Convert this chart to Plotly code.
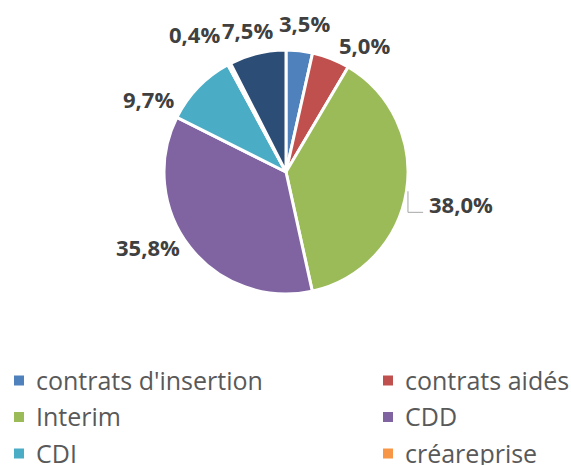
import math
import plotly.graph_objects as go

labels = ["contrats d'insertion", "contrats aidés", "Interim", "CDD", "CDI", "créareprise", "autres"]
values = [3.5, 5.0, 38.0, 35.8, 9.7, 0.4, 7.5]
colors = ["#4F81BD", "#C0504D", "#9BBB59", "#8064A2", "#4BACC6", "#F79646", "#2C4D75"]

# label placement style (distance from centre in px, angular nudge in degrees)
label_dist = [150, 149.5, 178, 157, 156, 165, 147]
label_nudge = [0.6, 9.9, 1.2, 9.4, -16.0, -5.8, -1.7]
leader = [False, False, True, False, False, False, False]

W, H = 571, 465
cx, cy, r = 286, 172, 122


def px(x):
    return x / W


def py(y):
    return 1 - y / H


fig = go.Figure()
fig.add_trace(go.Pie(
    labels=labels, values=values, sort=False, direction="clockwise", rotation=0,
    marker=dict(colors=colors, line=dict(color="white", width=3)),
    textinfo="none", showlegend=False, hoverinfo="label+percent",
    domain=dict(x=[px(cx - r), px(cx + r)], y=[py(cy + r), py(cy - r)]),
))

total = sum(values)
cum = 0.0
for i, v in enumerate(values):
    mid = 360.0 * (cum + v / 2) / total
    cum += v
    ang = math.radians(mid + label_nudge[i])
    lx = cx + label_dist[i] * math.sin(ang)
    ly = cy - label_dist[i] * math.cos(ang)
    txt = f"{v:.1f}%".replace(".", ",")
    fig.add_annotation(x=px(lx), y=py(ly), xref="paper", yref="paper", text=txt,
                       showarrow=False, xanchor="center", yanchor="middle",
                       font=dict(family="Open Sans", size=22, color="#404040", weight="bold"))
    if leader[i]:
        m = math.radians(mid)
        sx = cx + r * math.sin(m) + 1.5
        sy = cy - r * math.cos(m)
        ey = ly + 8.5
        ex = lx - 38
        fig.add_shape(type="path", xref="paper", yref="paper",
                      path=f"M {px(sx)} {py(sy)} L {px(sx)} {py(ey)} L {px(ex)} {py(ey)}",
                      line=dict(color="#A6A6A6", width=1))

# legend drawn in two columns (the 7th entry falls below the visible area)
col_x = [14, 383]
row_y = [380.5, 417, 453.5]
for i, (lab, col) in enumerate(zip(labels, colors)):
    if i // 2 >= len(row_y):
        continue
    x0 = col_x[i % 2]
    yc = row_y[i // 2]
    fig.add_shape(type="rect", xref="paper", yref="paper",
                  x0=px(x0), x1=px(x0 + 10), y0=py(yc + 5), y1=py(yc - 5),
                  fillcolor=col, line=dict(width=0))
    fig.add_annotation(x=px(x0 + 20), y=py(yc - 1), xref="paper", yref="paper",
                       text=lab, showarrow=False, xanchor="left", yanchor="middle",
                       font=dict(family="Open Sans", size=25, color="#595959"))

fig.update_layout(
    width=W, height=H, margin=dict(l=0, r=0, t=0, b=0, autoexpand=False),
    paper_bgcolor="white", plot_bgcolor="white",
)
fig.write_html("out.html", config={"displayModeBar": False},
               post_script="document.body.style.margin='0px';")
